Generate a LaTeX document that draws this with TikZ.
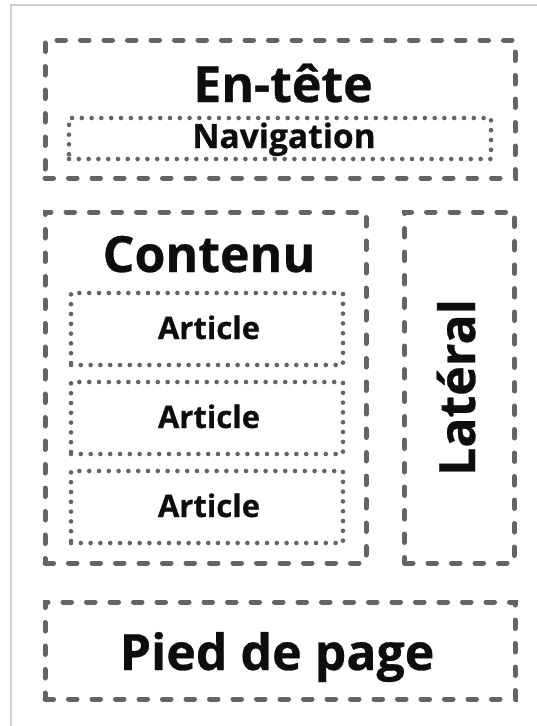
\documentclass[tikz,border=0pt]{standalone}
\usepackage{fontspec}
\setmainfont{Open Sans}[BoldFeatures={FakeBold=0.6}]
\definecolor{boxgray}{HTML}{5F6667}
\definecolor{framegray}{HTML}{CFCFCF}
\definecolor{txt}{HTML}{0D0D0D}
\begin{document}
\begin{tikzpicture}[x=1pt,y=-1pt,
  dashbox/.style={draw=boxgray, line width=5pt, dash pattern=on 8.5pt off 15pt, line cap=round, rectangle, inner sep=0pt},
  dotbox/.style={draw=boxgray, line width=4.6pt, dash pattern=on 0pt off 9.8pt, line cap=round, rectangle, inner sep=0pt},
  bigtxt/.style={font=\bfseries\fontsize{50}{50}\selectfont, text=txt, inner sep=0pt, anchor=base},
  navtxt/.style={font=\bfseries\fontsize{33.5}{33.5}\selectfont, text=txt, inner sep=0pt, anchor=base},
  smalltxt/.style={font=\bfseries\fontsize{31}{31}\selectfont, text=txt, inner sep=0pt, anchor=base}
]
\useasboundingbox (0,0) rectangle (536,726);
\draw[framegray, line width=2.5pt] (11,5) rectangle (545,740);

% header
\node[dashbox, minimum width=470, minimum height=138] (entete) at (280,109) {};
\node[bigtxt] (entetetxt) at (283,102) {En-tête};
\node[dotbox, minimum width=422, minimum height=41] (nav) at (280,138.5) {};
\node[navtxt] (navtxt) at (284,148) {Navigation};

% content
\node[dashbox, minimum width=321, minimum height=351] (contenu) at (205.5,387.5) {};
\node[bigtxt] (contenutxt) at (209,272) {Contenu};
\node[dotbox, minimum width=272, minimum height=72] (art1) at (207,329) {};
\node[smalltxt] (art1txt) at (209,339) {Article};
\node[dotbox, minimum width=272, minimum height=72] (art2) at (207,418) {};
\node[smalltxt] (art2txt) at (209,428) {Article};
\node[dotbox, minimum width=272, minimum height=72] (art3) at (207,507) {};
\node[smalltxt] (art3txt) at (209,517) {Article};

% sidebar
\node[dashbox, minimum width=110, minimum height=351] (lateral) at (459.5,387.5) {};
\node[bigtxt, rotate=90] (lateraltxt) at (475,387.5) {Latéral};

% footer
\node[dashbox, minimum width=470, minimum height=97] (pied) at (280,650.5) {};
\node[bigtxt] (piedtxt) at (277,670) {Pied de page};
\end{tikzpicture}
\end{document}
